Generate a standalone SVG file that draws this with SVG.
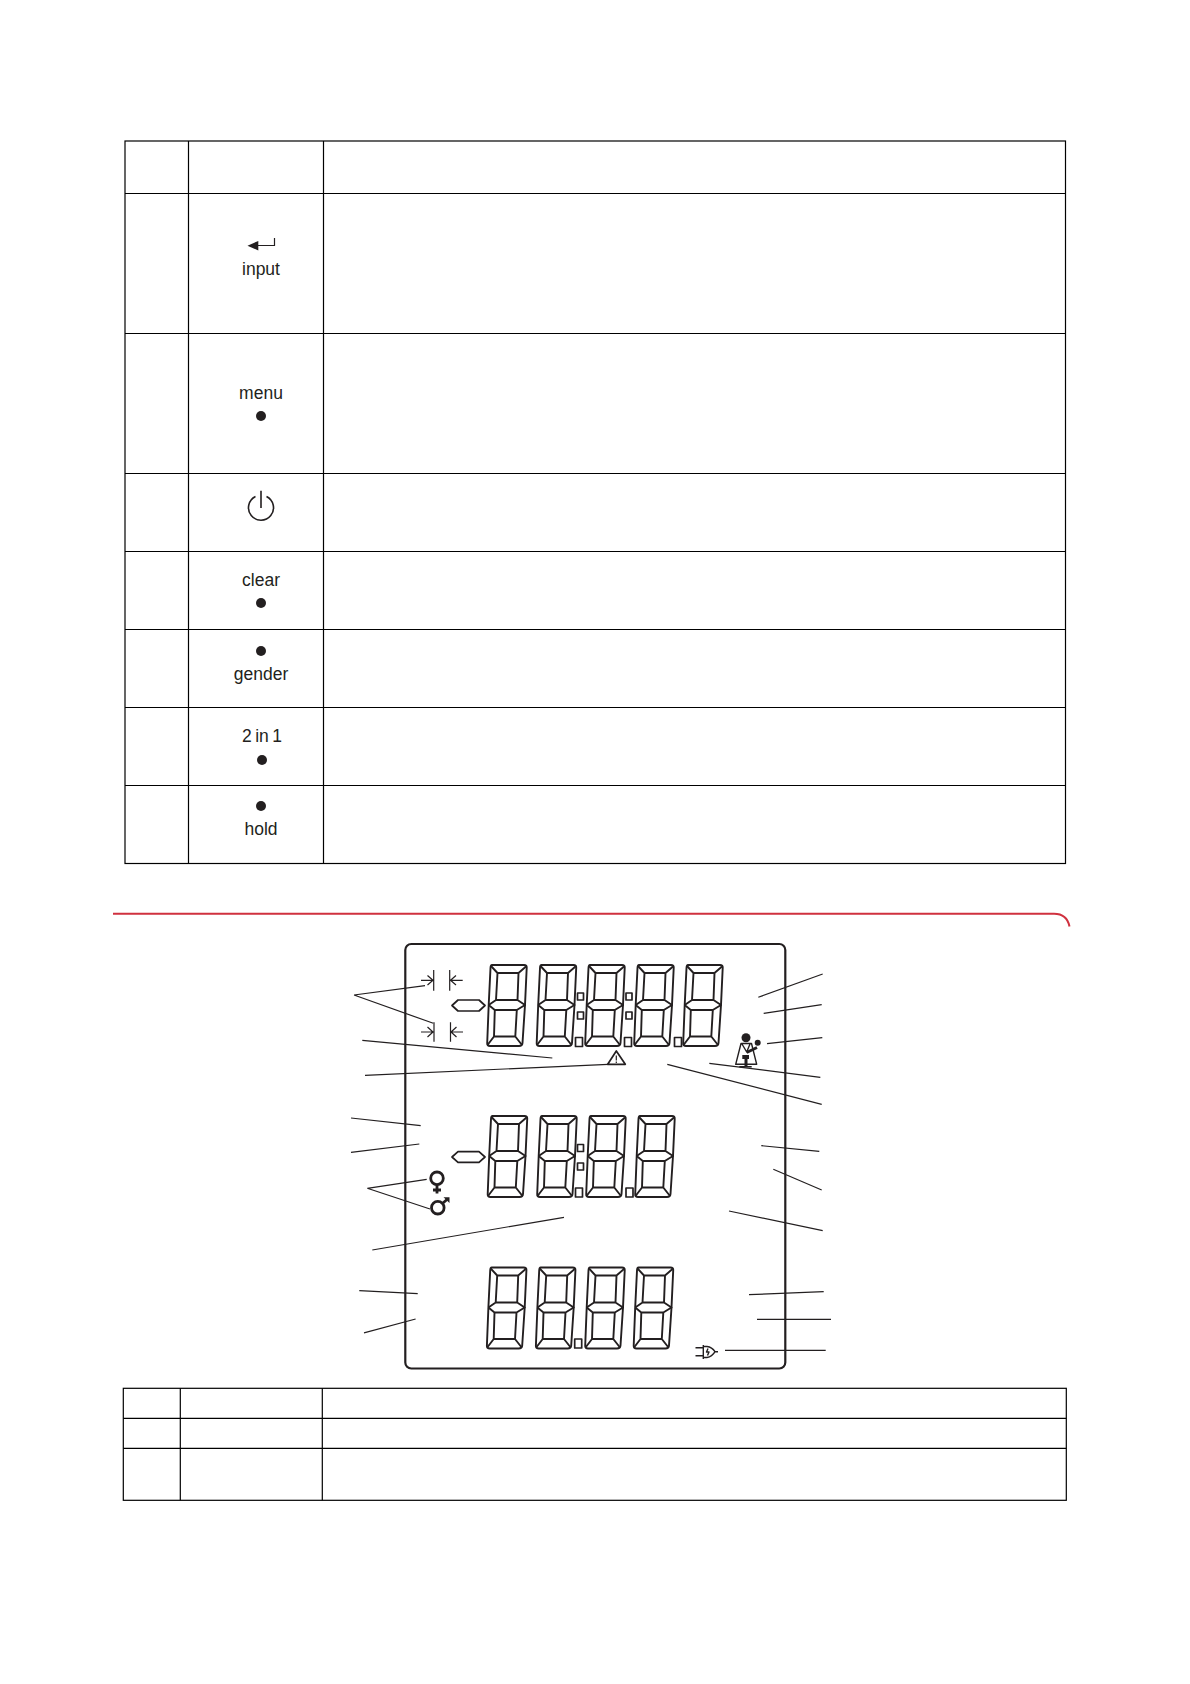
<svg xmlns="http://www.w3.org/2000/svg" width="1190" height="1684" viewBox="0 0 1190 1684">
<style>
.t{fill:none;stroke:#000;stroke-width:1.2}
.k{font-family:"Liberation Sans",Arial,sans-serif;font-size:17.5px;fill:#231f20;text-anchor:middle}
.d{fill:#231f20}
.l{fill:none;stroke:#231f20;stroke-width:1.2}
.s{fill:none;stroke:#231f20;stroke-width:1.9;stroke-linejoin:round}
.b{fill:none;stroke:#231f20;stroke-width:1.7;stroke-linejoin:round}
.ic{fill:none;stroke:#231f20;stroke-width:1.4;stroke-linejoin:round}
.g{fill:none;stroke:#231f20;stroke-width:2.8}
.f{fill:#231f20}
</style>
<defs>
<g id="digit" class="s">
<path d="M5 0H37Q40 0 39.700 3L38 40L35.500 78Q35.300 81 32 81H3Q0 81 0.200 78L1.700 40L3.500 3Q3.600 0 5 0Z"/>
<path d="M4 1L10.500 8H31.500L39 1.500M10.500 8L9 35H30.500L31.500 8M1.700 40L9 35M30.500 35L38 40L29.800 45H7.800L1.700 40M7.800 45L7 71.500H28.300L29.800 45M0.500 80L7 71.500M35 80L28.300 71.500"/>
</g>
</defs>
<rect width="1190" height="1684" fill="#fff"/>
<g id="table-top" class="t">
<rect x="125" y="141" width="940.500" height="722.500"/>
<path d="M188.500 141V863.500M323.500 141V863.500M125 193.500H1065.500M125 333.500H1065.500M125 473.500H1065.500M125 551.500H1065.500M125 629.500H1065.500M125 707.500H1065.500M125 785.500H1065.500"/>
</g>
<g id="key-input"><path class="l" d="M252 245.500H274.500V238"/><path class="f" d="M247.500 245.700L258.300 241V250.500Z"/><text class="k" x="261" y="275">input</text></g>
<g id="key-menu"><text class="k" x="261" y="399">menu</text><circle class="d" cx="261" cy="416" r="5"/></g>
<g id="key-power"><path fill="none" stroke="#231f20" stroke-width="1.600" d="M255.500 496.500A12.500 12.500 0 1 0 266.500 496.500M261 490.700V508"/></g>
<g id="key-clear"><text class="k" x="261" y="586">clear</text><circle class="d" cx="261" cy="603" r="5"/></g>
<g id="key-gender"><circle class="d" cx="261" cy="651" r="5"/><text class="k" x="261" y="680">gender</text></g>
<g id="key-2in1"><text class="k" x="262" y="742" word-spacing="-1.5">2 in 1</text><circle class="d" cx="262" cy="760" r="5"/></g>
<g id="key-hold"><circle class="d" cx="261" cy="806" r="5"/><text class="k" x="261" y="835">hold</text></g>
<path id="rule" d="M113 913.700H1054Q1067 913.700 1069.500 926.500" fill="none" stroke="#d0313f" stroke-width="2"/>
<g id="lcd">
<rect x="405.300" y="944" width="380" height="424.500" rx="6" fill="none" stroke="#231f20" stroke-width="2.200"/>
<use href="#digit" x="487" y="965"/><use href="#digit" x="536.500" y="965"/><use href="#digit" x="585" y="965"/><use href="#digit" x="634" y="965"/><use href="#digit" x="683" y="965"/>
<use href="#digit" x="487.500" y="1116"/><use href="#digit" x="537" y="1116"/><use href="#digit" x="586" y="1116"/><use href="#digit" x="635" y="1116"/>
<use href="#digit" x="486.700" y="1267.500"/><use href="#digit" x="535.700" y="1267.500"/><use href="#digit" x="585" y="1267.500"/><use href="#digit" x="633.500" y="1267.500"/>
<path class="b" d="M577.500 993h6v7h-6zM577.500 1012h6v7h-6zM575.500 1037.500h7v9h-7zM626 993h6v7h-6zM626 1012h6v7h-6zM624.500 1037.500h7v9h-7zM674.500 1037.500h7v9h-7z"/>
<path class="b" d="M577.500 1144.500h6v7h-6zM577.500 1163h6v7h-6zM575.500 1188h7v9h-7zM626 1188h7v9h-7z"/>
<path class="b" d="M574.700 1339h7v9h-7z"/>
<path class="b" d="M452 1005.500L458 1000H479L485 1005.500L479 1011H458ZM452 1157L458 1151.700H479L485 1157L479 1162.300H458Z"/>
<path class="l" d="M433.700 970V990.700M449.700 970V990.700M421 980.300H433M427.500 975.500L433 980.300L427.500 985M450.500 980.300H462.700M456 975.500L450.500 980.300L456 985M434 1022.300V1041.700M450.500 1022.300V1041.700M421 1032H433M427.500 1027L433 1032L427.500 1037M451 1032H463M456.500 1027L451 1032L456.500 1037"/>
<path class="b" d="M616.300 1051L625.300 1064.300H607.700Z"/><path class="l" d="M616.300 1055.500V1060.500M616.300 1061.500V1063"/>
</g>
<g id="icon-person">
<circle class="f" cx="746" cy="1037.700" r="4.500"/><circle class="f" cx="757.700" cy="1042.700" r="3"/>
<path class="ic" d="M741 1043.500L735.700 1064.300H756.700L751.500 1043.500ZM741.700 1043.500L746.700 1052L750 1044"/>
<path fill="none" stroke="#231f20" stroke-width="2.800" d="M746.700 1052.500L757 1047.500"/>
<path class="f" d="M742.300 1055H749V1059H747.500V1066H744.500V1059H742.300ZM739.300 1066H751.700V1067.500H739.300Z"/>
</g>
<g id="icon-plug"><path class="ic" d="M703.300 1345V1359M703.300 1346.500H707Q712 1347 715 1351.700Q712 1357 707 1357.500H703.300M695.500 1347.700H703M695.500 1355.700H703M715 1351.700H718M708 1348.500L706.500 1352L709 1352L707.500 1355.500"/></g>
<g id="icon-female"><circle class="g" cx="437" cy="1178.300" r="6.300"/><path class="g" d="M437 1184.500V1193.500M433 1190H441"/></g>
<g id="icon-male"><circle class="g" cx="437.800" cy="1207.700" r="6.300"/><path class="g" d="M443 1203L447 1199.500"/><path class="f" d="M443.500 1197.300H449.500V1203Z"/></g>
<g id="connectors" class="l">
<path d="M354 995L425 985.700M354 995L433.300 1023.300"/>
<path d="M362.300 1040.300L552.300 1058"/>
<path d="M365 1075.300L608.300 1064.300"/>
<path d="M758.300 997.300L822.700 974"/>
<path d="M763.700 1013.300L821.700 1004.700"/>
<path d="M767 1043.700L822.300 1037.700"/>
<path d="M709.300 1063.300L820.300 1077.300"/>
<path d="M667.300 1064.300L821.700 1104.300"/>
<path d="M761.300 1145.700L819.300 1151.300"/>
<path d="M773.300 1169.300L821.700 1190"/>
<path d="M729 1211L822.700 1230.700"/>
<path d="M749 1294.700L823.700 1291.700"/>
<path d="M757 1319.300H831"/>
<path d="M725 1350.300H825.700"/>
<path d="M351 1118L420.700 1125.700"/>
<path d="M351 1152.300L419.300 1144"/>
<path d="M367.300 1188.300L426.700 1179.300M367.300 1188.300L430 1209"/>
<path d="M372.300 1250L564 1217.300"/>
<path d="M359.300 1290.700L417.700 1293.700"/>
<path d="M364 1332.800L415.600 1319"/>
</g>
<g id="table-bottom" class="t">
<rect x="123.300" y="1388.300" width="943" height="112"/>
<path d="M180.300 1388.300V1500.300M322.300 1388.300V1500.300M123.300 1418.300H1066.300M123.300 1448.300H1066.300"/>
</g>
</svg>
